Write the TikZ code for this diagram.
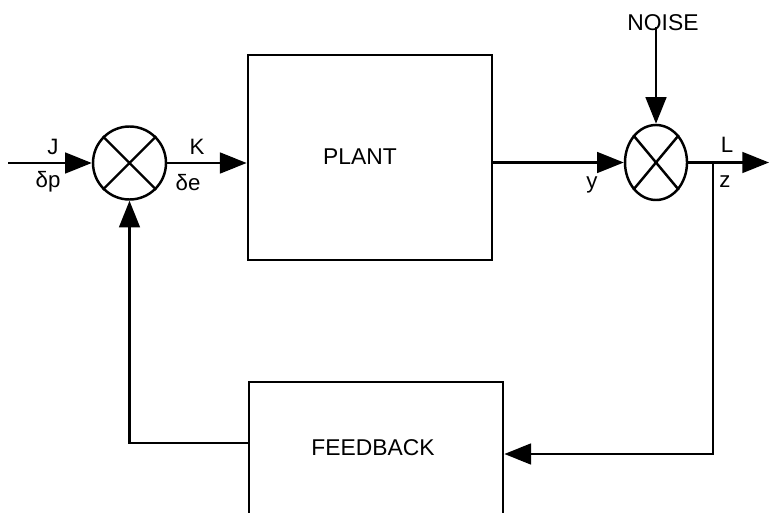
\documentclass[tikz,border=0pt]{standalone}
\usepackage{fontspec}
\setmainfont{Liberation Sans}
\usetikzlibrary{shapes.geometric, arrows.meta, positioning, calc}

\begin{document}
\begin{tikzpicture}[x=0.03cm, y=-0.03cm, >={Triangle[length=0.8cm, width=0.62cm]}, line width=2.3pt,
    blockbox/.style={draw, rectangle, inner sep=0pt},
    sumnode/.style={draw, inner sep=0pt, line width=2.1pt},
    bigtext/.style={font=\fontsize{19.5}{22}\selectfont},
    smalltext/.style={font=\fontsize{19}{22}\selectfont}]
    \fill[white] (0,0) rectangle (769,512);
    \clip (0,0) rectangle (769,512);

    % blocks
    \node[blockbox, minimum width=7.32cm, minimum height=6.15cm] (plant) at (370,157.5) {};
    \node[blockbox, minimum width=7.62cm, minimum height=4.74cm] (feedback) at (376,461) {};
    \node[bigtext] (plantlabel) at (360,157) {PLANT};
    \node[bigtext] (feedbacklabel) at (373,448) {FEEDBACK};

    % summing junctions
    \node[sumnode, circle, minimum size=2.19cm] (sumJ) at (129.5,163) {};
    \node[sumnode, ellipse, minimum width=1.86cm, minimum height=2.25cm] (sumN) at (656,162.5) {};
    \draw[line width=2.1pt] (sumJ.north west) -- (sumJ.south east) (sumJ.north east) -- (sumJ.south west);
    \draw[line width=2.1pt] (sumN.north west) -- (sumN.south east) (sumN.north east) -- (sumN.south west);

    \coordinate (in) at (8,163);
    \coordinate (noisetop) at (656,27);
    \coordinate (out) at (769,162.5);
    \coordinate (ztap) at (713,162.5);
    \coordinate (fbturn) at (713,454);
    \coordinate (retturn) at (129.5,443);

    % forward path
    \draw[->] (in) -- (sumJ.west);
    \draw[->] (sumJ.east) -- (sumJ.east -| plant.west);
    \draw[->] (sumN.west -| plant.east) -- (sumN.west);
    \draw[->] (noisetop) -- (sumN.north);
    \draw[->] (sumN.east) -- (out);

    % feedback path
    \draw[->] (ztap) -- (fbturn) -- (fbturn -| feedback.east);
    \draw[->] (retturn -| feedback.west) -- (retturn) -- (sumJ.south);

    \node[bigtext] (noiselabel) at (663,23) {NOISE};
    \node[smalltext] (jlabel) at (53,147) {J};
    \node[smalltext] (dplabel) at (48,182) {δp};
    \node[smalltext] (klabel) at (197,147) {K};
    \node[smalltext] (delabel) at (188,183) {δe};
    \node[smalltext] (ylabel) at (592,185) {y};
    \node[smalltext] (llabel) at (727,145) {L};
    \node[smalltext] (zlabel) at (725,182) {z};
\end{tikzpicture}
\end{document}
